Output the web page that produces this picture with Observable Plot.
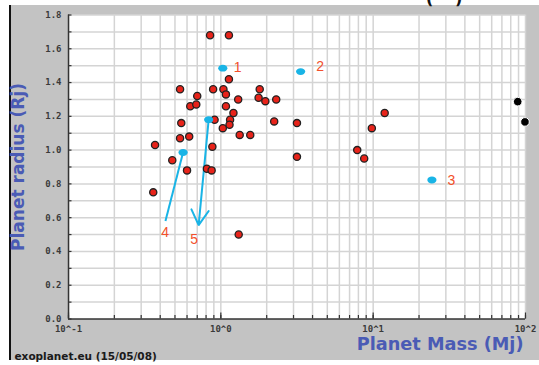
<!DOCTYPE html>
<html>
<head>
<meta charset="utf-8">
<script src="https://cdn.jsdelivr.net/npm/d3@7"></script>
<script src="https://cdn.jsdelivr.net/npm/@observablehq/plot@0.6"></script>
<style>
  html, body { margin: 0; padding: 0; background: #fff; overflow: hidden; }
  #wrap { position: relative; width: 539px; height: 365px; }
  #panel {
    position: absolute; left: 9px; top: 5px; width: 530px; height: 355px;
    background: #c3c3c3; border-left: 2px solid #111; box-sizing: border-box;
  }
  #chart { position: absolute; left: 0; top: 0; }
  .paren {
    position: absolute; top: -11px; font: bold 16px "DejaVu Sans", sans-serif; color: #111;
  }
</style>
</head>
<body>
<div id="wrap">
  <div id="panel"></div>
  <span class="paren" style="left:426px">(</span>
  <span class="paren" style="left:455px">)</span>
  <div id="chart"></div>
</div>
<script>
// Transiting planets: mass (Jupiter masses) vs radius (Jupiter radii)
const planetMass = [0.85, 1.13, 1.13, 0.54, 0.89, 1.04, 1.08, 0.70, 1.80, 1.77, 1.96,
  1.30, 2.31, 0.63, 0.69, 1.08, 1.21, 0.91, 1.15, 1.14, 1.03, 0.55, 2.24, 1.33, 1.56,
  0.37, 0.54, 0.62, 0.88, 0.48, 0.60, 0.81, 0.87, 0.36, 1.31, 3.16, 3.16, 11.9, 9.8,
  7.86, 8.73];
const planetRadius = [1.68, 1.68, 1.42, 1.36, 1.36, 1.36, 1.33, 1.32, 1.36, 1.31, 1.29,
  1.30, 1.30, 1.26, 1.27, 1.26, 1.22, 1.18, 1.18, 1.15, 1.13, 1.16, 1.17, 1.09, 1.09,
  1.03, 1.07, 1.08, 1.02, 0.94, 0.88, 0.89, 0.88, 0.75, 0.50, 1.16, 0.96, 1.22, 1.13,
  1.00, 0.95];

// Numbered highlighted planets
const markedName = ["1", "2", "3", "4", "5"];
const markedMass = [1.03, 3.34, 24.3, 0.565, 0.832];
const markedRadius = [1.485, 1.465, 0.823, 0.986, 1.18];
const markedLabelMass = [1.29, 4.49, 32.6, 0.431, 0.667];
const markedLabelRadius = [1.489, 1.493, 0.8185, 0.51, 0.4686];

// Leader line for 4 and arrow for 5
const leaderEndMass = [0.433, 0.715];
const leaderEndRadius = [0.581, 0.556];

// Brown-dwarf-mass companions
const heavyMass = [88.9, 99.2];
const heavyRadius = [1.287, 1.167];

// Axis ticks and titles
const yTickValues = [0, 0.2, 0.4, 0.6, 0.8, 1.0, 1.2, 1.4, 1.6, 1.8];
const xTickValues = [0.1, 1, 10, 100];
const xTickLabels = ["10^-1", "10^0", "10^1", "10^2"];
const xTitle = "Planet Mass (Mj)";
const yTitle = "Planet radius (Rj)";
const source = "exoplanet.eu (15/05/08)";

const planets = planetMass.map((m, i) => ({mass: m, radius: planetRadius[i]}));
const marked = markedName.map((n, i) => ({
  name: n, mass: markedMass[i], radius: markedRadius[i],
  labelMass: markedLabelMass[i], labelRadius: markedLabelRadius[i]
}));
const heavy = heavyMass.map((m, i) => ({mass: m, radius: heavyRadius[i]}));
const leader4 = [{x1: markedMass[3], y1: markedRadius[3], x2: leaderEndMass[0], y2: leaderEndRadius[0]}];
const arrow5 = [{x1: markedMass[4], y1: markedRadius[4], x2: leaderEndMass[1], y2: leaderEndRadius[1]}];

const W = 539, H = 365;
const M = {top: 14.5, right: 14, bottom: 46.5, left: 68};
const frameW = W - M.left - M.right;
const frameH = H - M.top - M.bottom;

const xDomain = [0.1, 100];
const xGrid = d3.scaleLog().domain(xDomain).ticks();
const xMajor = xGrid.filter(v => xTickValues.some(t => Math.abs(t - v) < 1e-9));
const yGrid = d3.range(1, 19).map(i => i / 10);
const yMinor = d3.range(0, 19).map(i => i / 10);

const xLabelOf = d => xTickLabels[xTickValues.findIndex(t => Math.abs(t - d) < 1e-9)];

const cyan = "#19b4e6";
const labelRed = "#f2502c";
const blue = "#4a5bb5";
const gridColor = "#d4d4d4";

// ellipse symbol for highlighted planets
const ellipse = {
  draw(ctx) {
    const rx = 4.6, ry = 3.4, k = 0.5523, kx = rx * k, ky = ry * k;
    ctx.moveTo(rx, 0);
    ctx.bezierCurveTo(rx, ky, kx, ry, 0, ry);
    ctx.bezierCurveTo(-kx, ry, -rx, ky, -rx, 0);
    ctx.bezierCurveTo(-rx, -ky, -kx, -ry, 0, -ry);
    ctx.bezierCurveTo(kx, -ry, rx, -ky, rx, 0);
    ctx.closePath();
  }
};

const chart = Plot.plot({
  width: W,
  height: H,
  marginTop: M.top,
  marginRight: M.right,
  marginBottom: M.bottom,
  marginLeft: M.left,
  style: {background: "transparent", overflow: "visible"},
  x: {type: "log", domain: xDomain},
  y: {domain: [0, 1.8]},
  marks: [
    Plot.frame({fill: "white", stroke: null}),
    Plot.ruleX(xGrid, {stroke: gridColor, strokeWidth: 1.5}),
    Plot.ruleY(yGrid, {stroke: gridColor, strokeWidth: 1.5}),
    // inward tick marks
    Plot.ruleX(xGrid, {stroke: "#333", strokeWidth: 1.2, insetTop: frameH - 3.5}),
    Plot.ruleX(xMajor, {stroke: "#333", strokeWidth: 1.2, insetTop: frameH - 6}),
    Plot.ruleY(yMinor, {stroke: "#333", strokeWidth: 1.2, insetRight: frameW - 3.5}),
    // axis lines
    Plot.ruleX([xDomain[0]], {stroke: "#333", strokeWidth: 1.5}),
    Plot.ruleY([0], {stroke: "#333", strokeWidth: 1.5}),
    Plot.axisY(yTickValues, {
      tickSize: 0, tickPadding: 7, tickFormat: d => d.toFixed(1),
      fontFamily: "DejaVu Sans Mono", fontSize: 9, fontWeight: "bold", fill: "#3a3a3a"
    }),
    Plot.axisX(xTickValues, {
      tickSize: 0, tickPadding: 7, tickFormat: xLabelOf,
      fontFamily: "DejaVu Sans Mono", fontSize: 9, fontWeight: "bold", fill: "#3a3a3a"
    }),
    Plot.link(leader4, {x1: "x1", y1: "y1", x2: "x2", y2: "y2", stroke: cyan, strokeWidth: 2}),
    Plot.arrow(arrow5, {x1: "x1", y1: "y1", x2: "x2", y2: "y2", stroke: cyan, strokeWidth: 2,
      headLength: 13, headAngle: 60}),
    Plot.dot(planets, {x: "mass", y: "radius", r: 3.6, fill: "#e8231a", stroke: "#222", strokeWidth: 1.3}),
    Plot.dot(marked, {x: "mass", y: "radius", symbol: ellipse, fill: cyan, stroke: "none"}),
    Plot.dot(heavy, {x: "mass", y: "radius", r: 4.3, fill: "#000", stroke: "#fff", strokeWidth: 1}),
    Plot.text(marked, {x: "labelMass", y: "labelRadius", text: "name", fill: labelRed,
      fontSize: 14, fontFamily: "Liberation Sans"}),
    Plot.text([yTitle], {frameAnchor: "left", textAnchor: "middle", dx: -50, rotate: -90, text: d => d,
      fontSize: 17, fontWeight: "bold", fontFamily: "DejaVu Sans", fill: blue}),
    Plot.text([xTitle], {frameAnchor: "bottom-right", textAnchor: "end", dx: -2, dy: 30.5, text: d => d,
      fontSize: 17.7, fontWeight: "bold", fontFamily: "DejaVu Sans", fill: blue}),
    Plot.text([source], {frameAnchor: "bottom-left", textAnchor: "start", dx: -54, dy: 41, text: d => d,
      fontSize: 10.5, fontWeight: "bold", fontFamily: "DejaVu Sans", fill: "#1a1a1a"})
  ]
});

document.getElementById("chart").appendChild(chart);
</script>
</body>
</html>
